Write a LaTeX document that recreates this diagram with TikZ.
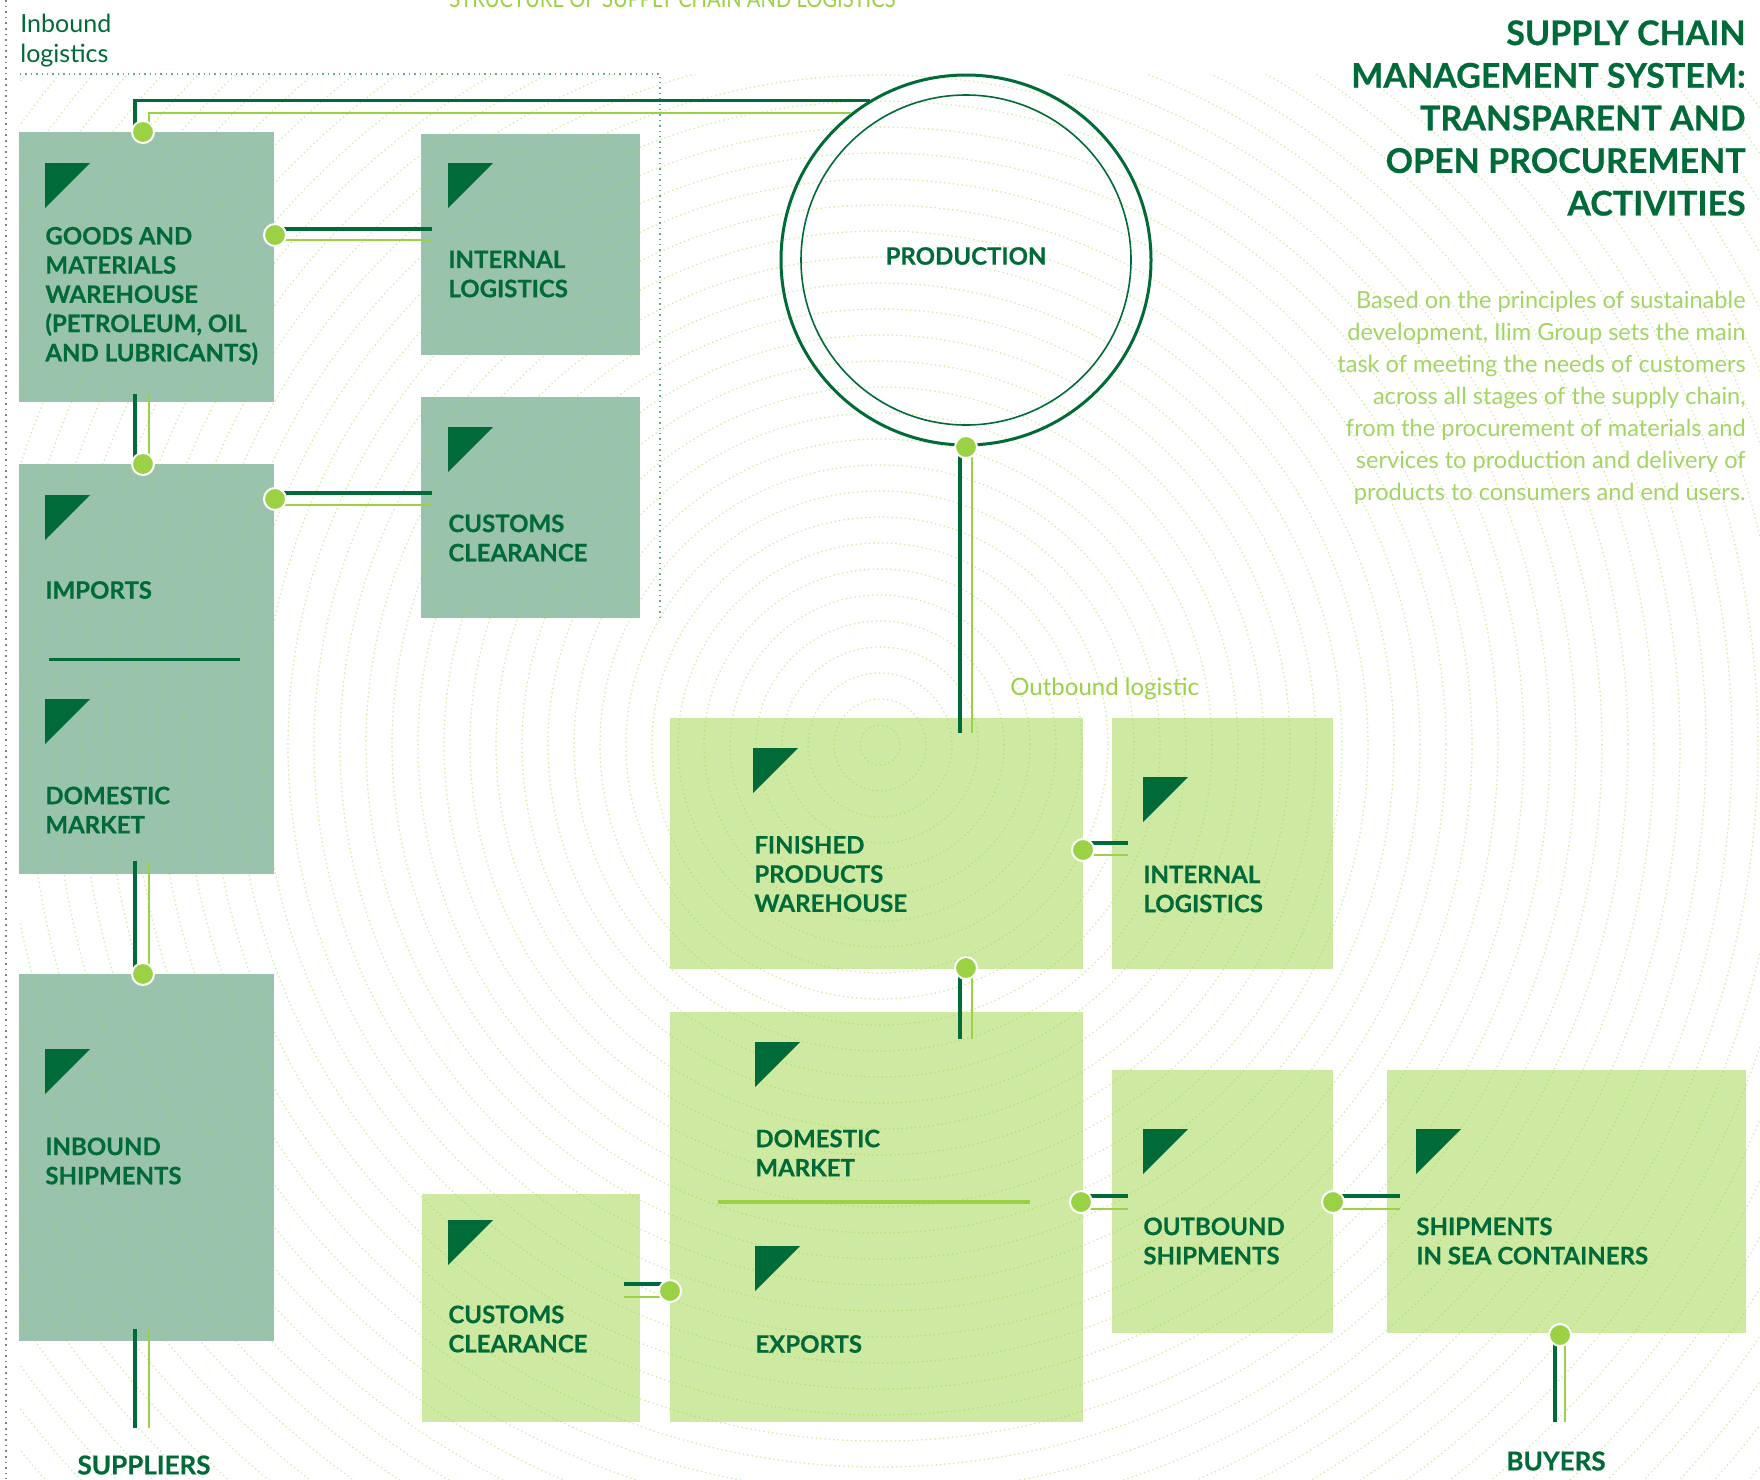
\documentclass[tikz,border=0pt]{standalone}
\usepackage{fontspec}
\usepackage{graphicx}
\setmainfont{Lato}[BoldFeatures={FakeBold=0.5}]
\usetikzlibrary{calc}

\definecolor{chaindark}{HTML}{006A38}
\definecolor{chainlight}{HTML}{9BD145}
\definecolor{boxdark}{HTML}{9AC3AE}
\definecolor{boxlight}{HTML}{CEE9A1}
\definecolor{paratext}{HTML}{A3D563}

% corner flag of a box
\newcommand{\flag}[1]{\fill[chaindark] (#1) -- ++(45,0) -- ++(-45,45) -- cycle;}

\begin{document}
\begin{tikzpicture}[
  x=0.5pt, y=-0.5pt,
  darkbox/.style 2 args={rectangle, fill=boxdark, inner sep=0pt, anchor=north west, minimum width=#1*0.5pt, minimum height=#2*0.5pt},
  lightbox/.style 2 args={darkbox={#1}{#2}, fill=boxlight},
  boxtext/.style={anchor=west, align=left, inner sep=0pt, text=chaindark, font=\fontsize{12}{14.6}\selectfont\bfseries},
  endtext/.style={inner sep=0pt, text=chaindark, font=\fontsize{13}{15}\selectfont\bfseries},
  joint/.style={circle, fill=chainlight, draw=white, line width=1pt, minimum size=11pt, inner sep=0pt},
  darkwire/.style={draw=chaindark, line width=1.6pt},
  lightwire/.style={draw=chainlight, line width=0.9pt},
  ring/.style={draw=chainlight, draw opacity=0.45, line width=0.9pt, line cap=round, dash pattern=on 0pt off 2.2pt}
]
\useasboundingbox (0,0) rectangle (1760,1479);
\fill[white] (0,0) rectangle (1760,1479);

% inbound boxes
\node[darkbox={255}{270}] (goods) at (19,132) {};
\node[darkbox={219}{221}] (intA) at (421,134) {};
\node[darkbox={219}{221}] (cusA) at (421,397) {};
\node[darkbox={255}{410}] (impdom) at (19,464) {};
\node[darkbox={255}{367}] (inb) at (19,974) {};
% outbound boxes
\node[lightbox={413}{251}] (fin) at (670,718) {};
\node[lightbox={221}{251}] (intB) at (1112,718) {};
\node[lightbox={413}{410}] (domexp) at (670,1012) {};
\node[lightbox={218}{228}] (cusB) at (422,1194) {};
\node[lightbox={221}{263}] (outb) at (1112,1070) {};
\node[lightbox={359}{263}] (sea) at (1387,1070) {};

% background rings
\begin{scope}
  \clip (20,74) rectangle (1760,1479);
  \foreach \r in {20,46,...,1180}
    \draw[ring] (880,745) circle[radius=\r];
\end{scope}

% frames
\draw[gray, dotted, line width=0.8pt] (6,0) -- (6,1479);
\draw[chaindark!60, dotted, line width=0.7pt] (20,74) -- (660,74) -- (660,617);

% flags
\flag{45,163} \flag{448,163} \flag{448,427}
\flag{45,495} \flag{45,699} \flag{45,1049}
\flag{753,748} \flag{1143,777} \flag{755,1042} \flag{755,1246}
\flag{448,1220} \flag{1143,1129} \flag{1416,1129}

% separators
\draw[chaindark, line width=1.5pt] (49,659) -- (240,659);
\draw[chainlight, line width=1.7pt] (718,1202) -- (1030,1202);

% texts
\node[anchor=base west, inner sep=0pt, text=chainlight, font=\fontsize{12}{14}\selectfont] (toptitle) at (449,7) {\scalebox{0.84}[1]{STRUCTURE OF SUPPLY CHAIN AND LOGISTICS}};
\node[anchor=north west, align=left, inner sep=0pt, text=chaindark, font=\fontsize{12.5}{15}\selectfont] (inbtitle) at (20,14) {Inbound\\logistics};
\node[anchor=base west, inner sep=0pt, text=chainlight, font=\fontsize{12}{14}\selectfont] (outtitle) at (1010,695) {Outbound logistic};
\node[anchor=east, align=right, inner sep=0pt, text=chaindark, font=\fontsize{17}{21.3}\selectfont\bfseries] (title) at (1746,118) {SUPPLY CHAIN\\MANAGEMENT SYSTEM:\\TRANSPARENT AND\\OPEN PROCUREMENT\\ACTIVITIES};
\node[anchor=east, align=right, inner sep=0pt, text=paratext, font=\fontsize{11.8}{16}\selectfont] (para) at (1746,398) {Based on the principles of sustainable\\development, Ilim Group sets the main\\task of meeting the needs of customers\\across all stages of the supply chain,\\from the procurement of materials and\\services to production and delivery of\\products to consumers and end users.};

\node[boxtext] (goodstxt) at (45,296) {GOODS AND\\MATERIALS\\WAREHOUSE\\(PETROLEUM, OIL\\AND LUBRICANTS)};
\node[boxtext] (intAtxt) at (448,274) {INTERNAL\\LOGISTICS};
\node[boxtext] (cusAtxt) at (448,538) {CUSTOMS\\CLEARANCE};
\node[boxtext] (imptxt) at (45,590) {IMPORTS};
\node[boxtext] (domAtxt) at (45,810) {DOMESTIC\\MARKET};
\node[boxtext] (inbtxt) at (45,1161) {INBOUND\\SHIPMENTS};
\node[boxtext] (fintxt) at (754,874) {FINISHED\\PRODUCTS\\WAREHOUSE};
\node[boxtext] (intBtxt) at (1143,889) {INTERNAL\\LOGISTICS};
\node[boxtext] (domBtxt) at (755,1153) {DOMESTIC\\MARKET};
\node[boxtext] (exptxt) at (755,1344) {EXPORTS};
\node[boxtext] (cusBtxt) at (448,1329) {CUSTOMS\\CLEARANCE};
\node[boxtext] (outbtxt) at (1143,1241) {OUTBOUND\\SHIPMENTS};
\node[boxtext] (seatxt) at (1416,1241) {SHIPMENTS\\IN SEA CONTAINERS};
\node[endtext] (sup) at (144,1465) {SUPPLIERS};
\node[endtext] (buy) at (1556,1461) {BUYERS};

% production
\node[circle, draw=chaindark, line width=1.5pt, minimum size=185pt, inner sep=0pt] (prod) at (966,260) {};
\node[circle, draw=chaindark, line width=0.8pt, minimum size=165pt, inner sep=0pt] (prodin) at (966,260) {};
\node[inner sep=0pt, text=chaindark, font=\fontsize{12}{14}\selectfont\bfseries] (prodtxt) at (966,256) {PRODUCTION};

% joints
\coordinate (jgt) at (143,132);
\coordinate (jgr) at (275,235);
\coordinate (jit) at (143,464);
\coordinate (jir) at (275,499);
\coordinate (jnt) at (143,974);
\coordinate (jpb) at (966,447);
\coordinate (jfr) at (1083,850);
\coordinate (jfb) at (966,968);
\coordinate (jdr) at (1081,1202);
\coordinate (jcb) at (670,1291);
\coordinate (jor) at (1333,1202);
\coordinate (jsb) at (1560,1335);

% inbound wires
\draw[darkwire] ($(jgt)+(-8,0)$) |- (prod.121);
\draw[lightwire] ($(jgt)+(6,0)$) |- (prod.128);
\draw[darkwire] ($(goods.south -| jit)+(-8,-9)$) -- ($(jit)+(-8,0)$);
\draw[lightwire] ($(goods.south -| jit)+(6,-9)$) -- ($(jit)+(6,0)$);
\draw[darkwire] ($(jgr)+(0,-6)$) -- ($(jgr -| intA.west)+(11,-6)$);
\draw[lightwire] ($(jgr)+(0,5)$) -- ($(jgr -| intA.west)+(11,5)$);
\draw[darkwire] ($(jir)+(0,-6)$) -- ($(jir -| cusA.west)+(11,-6)$);
\draw[lightwire] ($(jir)+(0,6)$) -- ($(jir -| cusA.west)+(11,6)$);
\draw[darkwire] ($(impdom.south -| jnt)+(-8,-14)$) -- ($(jnt)+(-8,0)$);
\draw[lightwire] ($(impdom.south -| jnt)+(6,-14)$) -- ($(jnt)+(6,0)$);
\draw[darkwire] ($(inb.south -| jnt)+(-8,-13)$) -- ($(sup.north -| jnt)+(-8,-27)$);
\draw[lightwire] ($(inb.south -| jnt)+(6,-13)$) -- ($(sup.north -| jnt)+(6,-27)$);

% outbound wires
\draw[darkwire] ($(jpb)+(-6,0)$) -- ($(fin.north -| jpb)+(-6,15)$);
\draw[lightwire] ($(jpb)+(6,0)$) -- ($(fin.north -| jpb)+(6,15)$);
\draw[darkwire] ($(jfr)+(0,-7)$) -- ($(jfr -| intB.west)+(16,-7)$);
\draw[lightwire] ($(jfr)+(0,5)$) -- ($(jfr -| intB.west)+(16,5)$);
\draw[darkwire] ($(jfb)+(-6,0)$) -- ($(domexp.north -| jfb)+(-6,27)$);
\draw[lightwire] ($(jfb)+(6,0)$) -- ($(domexp.north -| jfb)+(6,27)$);
\draw[darkwire] ($(jdr)+(0,-6)$) -- ($(jdr -| outb.west)+(16,-6)$);
\draw[lightwire] ($(jdr)+(0,7)$) -- ($(jdr -| outb.west)+(16,7)$);
\draw[darkwire] ($(jor)+(0,-6)$) -- ($(jor -| sea.west)+(13,-6)$);
\draw[lightwire] ($(jor)+(0,7)$) -- ($(jor -| sea.west)+(13,7)$);
\draw[darkwire] ($(jcb -| cusB.east)+(-17,-7)$) -- ($(jcb)+(0,-7)$);
\draw[lightwire] ($(jcb -| cusB.east)+(-17,6)$) -- ($(jcb)+(0,6)$);
\draw[darkwire] ($(jsb)+(-5,0)$) -- ($(buy.north -| jsb)+(-5,-29)$);
\draw[lightwire] ($(jsb)+(5,0)$) -- ($(buy.north -| jsb)+(5,-29)$);

% joint dots
\foreach \j in {jgt,jgr,jit,jir,jnt,jpb,jfr,jfb,jdr,jcb,jor,jsb}
  \node[joint] at (\j) {};
\end{tikzpicture}
\end{document}
